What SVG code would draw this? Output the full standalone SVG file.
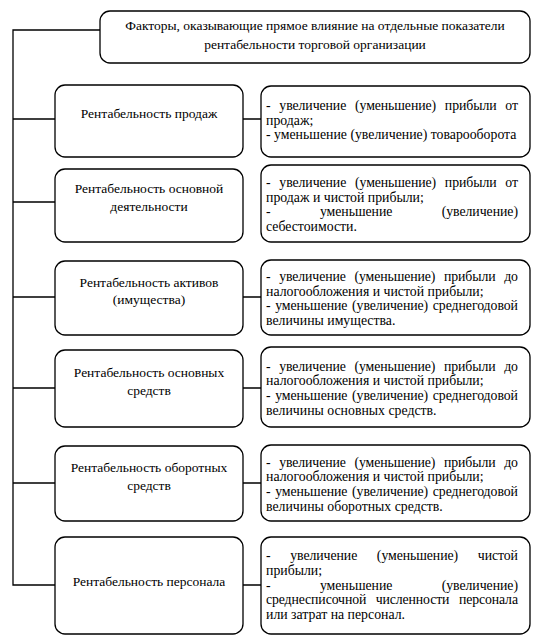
<svg xmlns="http://www.w3.org/2000/svg" width="543" height="641" viewBox="0 0 543 641">
<style>
.box{fill:#fff;stroke:#000;stroke-width:1.3}
.ln{fill:none;stroke:#000;stroke-width:1.3}
text{font-family:"Liberation Serif","Times New Roman",serif;font-size:13.5px;fill:#000}
.r text{font-size:13.8px}
.c{text-anchor:middle}
.w1{word-spacing:5.5px}
.w2{word-spacing:5.3px}
.w3{word-spacing:46px}
.w4{word-spacing:1.2px}
.w5{word-spacing:16.3px}
.w6{word-spacing:6.2px}
</style>
<rect width="543" height="641" fill="#fff"/>
<g id="connectors">
<path class="ln" d="M100 30H13V585H55"/>
<path class="ln" d="M13 119H55M13 202H55M13 297H55M13 388H55M13 483H55"/>
<path class="ln" d="M243 119H261M243 297H261M243 388H261M243 483H261M243 585H261"/>
</g>
<g id="title">
<rect class="box" x="100" y="11" width="430" height="52" rx="10"/>
<text class="c" x="315" y="30">Факторы, оказывающие прямое влияние на отдельные показатели</text>
<text class="c" x="315" y="49">рентабельности торговой организации</text>
</g>
<g id="n1">
<rect class="box" x="55" y="85" width="188" height="72" rx="10"/>
<text class="c" x="149" y="117.5">Рентабельность продаж</text>
</g>
<g id="f1" class="r">
<rect class="box" x="261" y="86" width="269" height="71" rx="10"/>
<text class="w1" x="266" y="110" textLength="252" lengthAdjust="spacing">- увеличение (уменьшение) прибыли от</text>
<text x="266" y="124.7">продаж;</text>
<text x="266" y="139.4">- уменьшение (увеличение) товарооборота</text>
</g>
<g id="n2">
<rect class="box" x="55" y="169" width="188" height="73" rx="10"/>
<text class="c" x="149" y="193">Рентабельность основной</text>
<text class="c" x="149" y="211">деятельности</text>
</g>
<g id="f2" class="r">
<rect class="box" x="261" y="165" width="269" height="77" rx="10"/>
<text class="w1" x="266" y="187" textLength="252" lengthAdjust="spacing">- увеличение (уменьшение) прибыли от</text>
<text x="266" y="201.7">продаж и чистой прибыли;</text>
<text class="w3" x="266" y="216.4" textLength="252" lengthAdjust="spacing">- уменьшение (увеличение)</text>
<text x="266" y="231.1">себестоимости.</text>
</g>
<g id="n3">
<rect class="box" x="55" y="261" width="188" height="74" rx="10"/>
<text class="c" x="149" y="286.5">Рентабельность активов</text>
<text class="c" x="149" y="303.5">(имущества)</text>
</g>
<g id="f3" class="r">
<rect class="box" x="261" y="260" width="269" height="75" rx="10"/>
<text class="w2" x="266" y="281" textLength="252" lengthAdjust="spacing">- увеличение (уменьшение) прибыли до</text>
<text x="266" y="295.7">налогообложения и чистой прибыли;</text>
<text class="w4" x="266" y="310.4" textLength="252" lengthAdjust="spacing">- уменьшение (увеличение) среднегодовой</text>
<text x="266" y="325">величины имущества.</text>
</g>
<g id="n4">
<rect class="box" x="55" y="350" width="188" height="77" rx="10"/>
<text class="c" x="149" y="377">Рентабельность основных</text>
<text class="c" x="149" y="394.5">средств</text>
</g>
<g id="f4" class="r">
<rect class="box" x="261" y="347" width="269" height="80" rx="10"/>
<text class="w2" x="266" y="370.5" textLength="252" lengthAdjust="spacing">- увеличение (уменьшение) прибыли до</text>
<text x="266" y="385.2">налогообложения и чистой прибыли;</text>
<text class="w4" x="266" y="399.9" textLength="252" lengthAdjust="spacing">- уменьшение (увеличение) среднегодовой</text>
<text x="266" y="414.5">величины основных средств.</text>
</g>
<g id="n5">
<rect class="box" x="55" y="446" width="188" height="75" rx="10"/>
<text class="c" x="149" y="472">Рентабельность оборотных</text>
<text class="c" x="149" y="489.5">средств</text>
</g>
<g id="f5" class="r">
<rect class="box" x="261" y="445" width="269" height="76" rx="10"/>
<text class="w2" x="266" y="466.5" textLength="252" lengthAdjust="spacing">- увеличение (уменьшение) прибыли до</text>
<text x="266" y="481.2">налогообложения и чистой прибыли;</text>
<text class="w4" x="266" y="495.9" textLength="252" lengthAdjust="spacing">- уменьшение (увеличение) среднегодовой</text>
<text x="266" y="510.5">величины оборотных средств.</text>
</g>
<g id="n6">
<rect class="box" x="55" y="537" width="188" height="97" rx="10"/>
<text class="c" x="149" y="586">Рентабельность персонала</text>
</g>
<g id="f6" class="r">
<rect class="box" x="261" y="537" width="269" height="97" rx="10"/>
<text class="w5" x="266" y="560" textLength="252" lengthAdjust="spacing">- увеличение (уменьшение) чистой</text>
<text x="266" y="574.8">прибыли;</text>
<text class="w3" x="266" y="589.5" textLength="252" lengthAdjust="spacing">- уменьшение (увеличение)</text>
<text class="w6" x="266" y="604.2" textLength="252" lengthAdjust="spacing">среднесписочной численности персонала</text>
<text x="266" y="619">или затрат на персонал.</text>
</g>
</svg>
